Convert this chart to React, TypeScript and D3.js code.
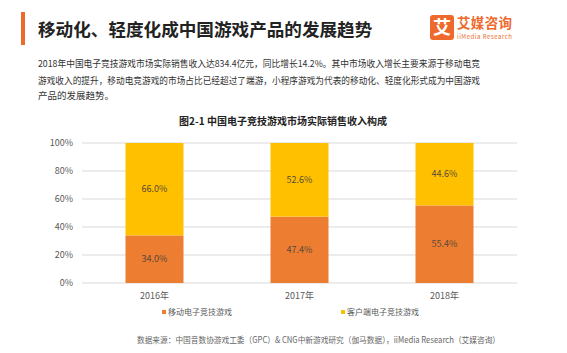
import React from 'react';
import * as d3 from 'd3';

const years = ['2016年', '2017年', '2018年'];
const mobileShare = [34.0, 47.4, 55.4];
const clientShare = [66.0, 52.6, 44.6];
const seriesNames = ['移动电子竞技游戏', '客户端电子竞技游戏'];
const yTicks = [0, 20, 40, 60, 80, 100];

const colours = ['#ED7D31', '#FFC000'];
const font = '"Noto Sans CJK SC", "Noto Sans", sans-serif';

const App: React.FC = () => {
  const width = 567;
  const height = 353;
  const plot = { left: 82, right: 517, top: 143, bottom: 283 };

  const x = d3.scaleBand<string>()
    .domain(years)
    .range([plot.left, plot.right])
    .paddingInner(0.6)
    .paddingOuter(0.3);

  const y = d3.scaleLinear().domain([0, 100]).range([plot.bottom, plot.top]);

  // stack the two shares on top of each other
  const rows = years.map((yr, i) => ({ year: yr, mobile: mobileShare[i], client: clientShare[i] }));
  const stacked = d3.stack<{ year: string; mobile: number; client: number }>()
    .keys(['mobile', 'client'])(rows);

  return (
    <svg width={width} height={height} style={{ position: 'absolute', left: 0, top: 0, background: '#fff' }} fontFamily={font}>
      {/* header */}
      <rect x={21} y={12} width={4} height={33} fill="#EE6A2C" />
      <text x={38} y={36} fontSize={17.6} fontWeight="bold" fill="#222">移动化、轻度化成中国游戏产品的发展趋势</text>

      {/* logo */}
      <rect x={430} y={15} width={24} height={25} rx={3} fill="#EE6A2C" />
      <text x={442} y={34} fontSize={18} fontWeight="bold" fill="#fff" textAnchor="middle">艾</text>
      <text x={457} y={28} fontSize={13.5} fontWeight="bold" fill="#EE6A2C" textLength={55}>艾媒咨询</text>
      <text x={457} y={39} fontSize={6} fill="#EE6A2C" textLength={55}>iiMedia Research</text>

      {/* paragraph */}
      <g fontSize={9.5} fill="#333">
        <text x={38} y={67} textLength={442} lengthAdjust="spacingAndGlyphs">2018年中国电子竞技游戏市场实际销售收入达834.4亿元，同比增长14.2%。其中市场收入增长主要来源于移动电竞</text>
        <text x={38} y={84} textLength={442} lengthAdjust="spacingAndGlyphs">游戏收入的提升，移动电竞游戏的市场占比已经超过了端游，小程序游戏为代表的移动化、轻度化形式成为中国游戏</text>
        <text x={38} y={99}>产品的发展趋势。</text>
      </g>

      {/* chart title */}
      <text x={283} y={125} fontSize={10} fontWeight="bold" fill="#222" textAnchor="middle">图2-1 中国电子竞技游戏市场实际销售收入构成</text>

      {/* grid + y axis */}
      {yTicks.map(t => (
        <g key={t}>
          <line x1={plot.left} x2={plot.right} y1={y(t)} y2={y(t)} stroke="#D9D9D9" strokeWidth={1} />
          <text x={73} y={y(t)} dy="0.35em" fontSize={9} fill="#595959" textAnchor="end">{t}%</text>
        </g>
      ))}

      {/* bars */}
      {stacked.map((layer, li) => (
        <g key={layer.key}>
          {layer.map(d => (
            <g key={d.data.year}>
              <rect
                x={x(d.data.year)}
                y={y(d[1])}
                width={x.bandwidth()}
                height={y(d[0]) - y(d[1])}
                fill={colours[li]}
              />
              <text
                x={(x(d.data.year) ?? 0) + x.bandwidth() / 2}
                y={(y(d[0]) + y(d[1])) / 2}
                dy="0.35em"
                fontSize={9}
                fill="#5A4A3A"
                textAnchor="middle"
              >
                {(d[1] - d[0]).toFixed(1)}%
              </text>
            </g>
          ))}
        </g>
      ))}

      {/* x labels */}
      {years.map(yr => (
        <text key={yr} x={(x(yr) ?? 0) + x.bandwidth() / 2} y={299} fontSize={9} fill="#595959" textAnchor="middle">{yr}</text>
      ))}

      {/* legend */}
      {seriesNames.map((name, i) => {
        const lx = [162, 341][i];
        return (
          <g key={name}>
            <rect x={lx} y={310} width={4} height={4} fill={colours[i]} />
            <text x={lx + 6} y={315} fontSize={8} fill="#595959">{name}</text>
          </g>
        );
      })}

      {/* source */}
      <text x={137} y={343} fontSize={8.5} fill="#666" textLength={363} lengthAdjust="spacingAndGlyphs">数据来源：中国音数协游戏工委（GPC）&amp; CNG中新游戏研究（伽马数据），iiMedia Research（艾媒咨询）</text>
    </svg>
  );
};

export default App;
